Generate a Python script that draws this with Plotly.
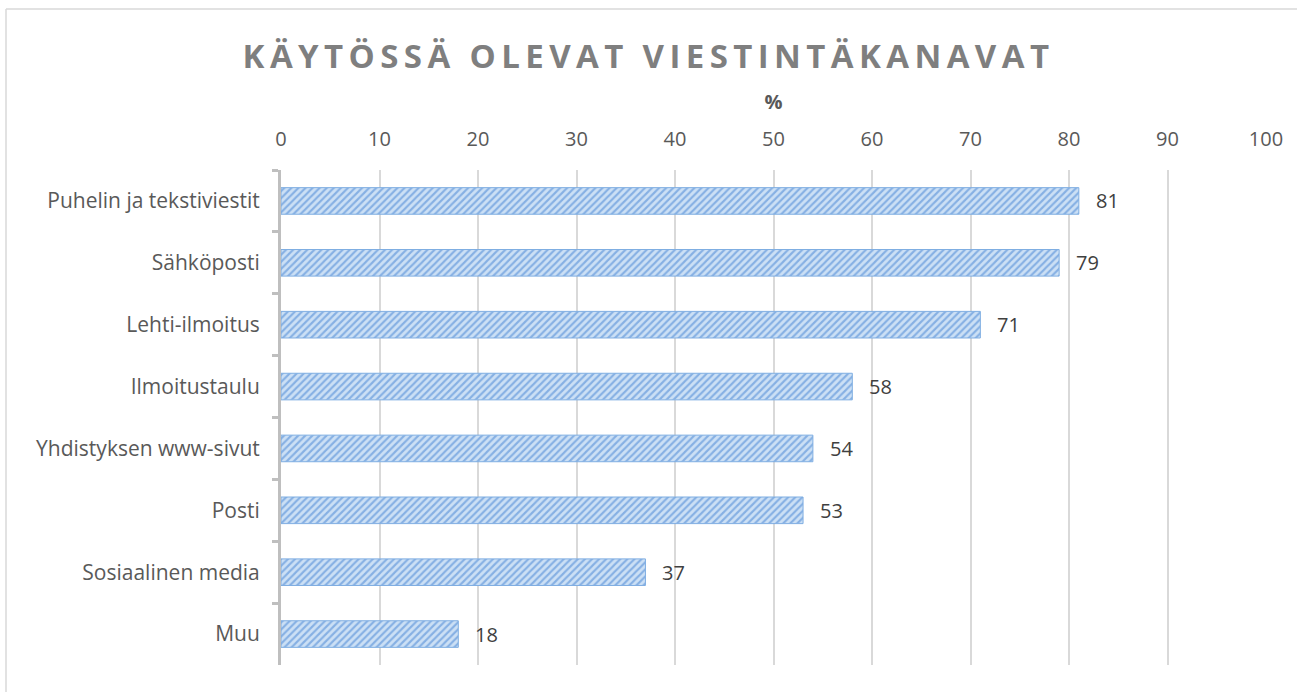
import plotly.graph_objects as go

categories = ["Puhelin ja tekstiviestit", "Sähköposti", "Lehti-ilmoitus", "Ilmoitustaulu",
              "Yhdistyksen www-sivut", "Posti", "Sosiaalinen media", "Muu"]
values = [81, 79, 71, 58, 54, 53, 37, 18]
x_ticks = [0, 10, 20, 30, 40, 50, 60, 70, 80, 90, 100]
title_text = "KÄYTÖSSÄ OLEVAT VIESTINTÄKANAVAT"
x_title = "%"

W, H = 1297, 692
L, R, T, B = 281, 31, 170, 27
pw, ph = W - L - R, H - T - B

fig = go.Figure()
fig.add_trace(go.Bar(
    x=values, y=categories, orientation="h",
    marker=dict(
        color="#C6DBF2",
        line=dict(color="#7FAEE2", width=1),
        pattern=dict(shape="/", fgcolor="#3F80D2", bgcolor="#CCE0F5", size=5, solidity=0.42),
    ),
    hoverinfo="skip",
))

for c, v in zip(categories, values):
    fig.add_annotation(x=v, y=c, text=str(v), showarrow=False, xanchor="left", xshift=15,
                       font=dict(family="Open Sans", size=20, color="#404040"))

# chart border (top & left visible)
bx = (6 - L) / pw
by = (H - B - 9) / ph
fig.add_shape(type="line", xref="paper", yref="paper", x0=bx, x1=(W + 5 - L) / pw, y0=by, y1=by,
              line=dict(color="#D9D9D9", width=1.5))
fig.add_shape(type="line", xref="paper", yref="paper", x0=bx, x1=bx, y0=by, y1=-0.2,
              line=dict(color="#D9D9D9", width=1.5))

fig.update_layout(
    width=W, height=H,
    margin=dict(l=L, r=R, t=T, b=B, autoexpand=False),
    paper_bgcolor="white", plot_bgcolor="white",
    bargap=0.57,
    showlegend=False,
    title=dict(text=title_text, x=0.5, xref="container", xanchor="center", y=1 - 56 / H, yanchor="middle",
               font=dict(family="Open Sans", size=33, color="#7F7F7F", weight="bold")),
    font=dict(family="Open Sans", color="#595959"),
    xaxis=dict(range=[0, 100], side="top", tickvals=x_ticks, ticktext=[str(t) for t in x_ticks],
               showgrid=True, gridcolor="#D9D9D9", gridwidth=2, zeroline=False, showline=False,
               ticks="", tickfont=dict(size=20, color="#595959"), ticklabelstandoff=19,
               title=dict(text=x_title, font=dict(size=20, color="#595959", weight="bold"), standoff=10)),
    yaxis=dict(autorange="reversed", showline=True, linecolor="#BFBFBF", linewidth=3,
               ticks="outside", tickson="boundaries", ticklen=6, tickwidth=3, tickcolor="#BFBFBF",
               showgrid=False, tickfont=dict(size=21, color="#595959"), ticklabelstandoff=14),
)

post = """
document.body.style.margin = '0';
document.documentElement.style.overflow = 'hidden';
var t = document.querySelector('.gtitle');
if (t) { t.style.letterSpacing = '5.4px'; }
"""
fig.write_html("out.html", post_script=post, config={"displayModeBar": False})
